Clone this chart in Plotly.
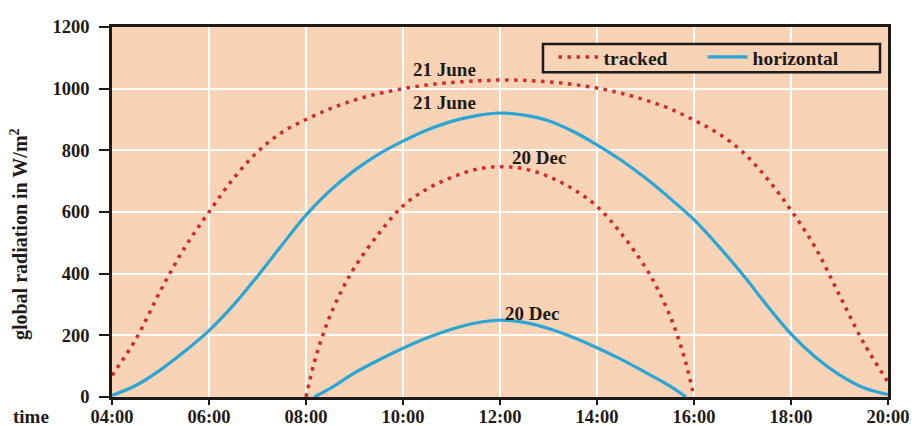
import plotly.graph_objects as go

# Clock times and radiation values (W/m²)
june_tracked_t = ["04:00", "04:30", "05:00", "05:30", "06:00", "06:30", "07:00", "07:30",
                  "08:00", "08:30", "09:00", "09:30", "10:00", "10:30", "11:00", "11:30",
                  "12:00", "12:30", "13:00", "13:30", "14:00", "14:30", "15:00", "15:30",
                  "16:00", "16:30", "17:00", "17:30", "18:00", "18:30", "19:00", "19:30", "20:00"]
june_tracked_v = [70, 190, 345, 485, 600, 708, 795, 858,
                  900, 935, 963, 984, 1000, 1012, 1020, 1025,
                  1028, 1027, 1022, 1014, 1002, 985, 963, 935,
                  898, 855, 795, 710, 606, 485, 330, 175, 49]

june_horiz_t = ["04:00", "04:30", "05:00", "05:30", "06:00", "06:30", "07:00", "07:30",
                "08:00", "08:30", "09:00", "09:30", "10:00", "10:30", "11:00", "11:30",
                "12:00", "12:30", "13:00", "13:30", "14:00", "14:30", "15:00", "15:30",
                "16:00", "16:30", "17:00", "17:30", "18:00", "18:30", "19:00", "19:30", "20:00"]
june_horiz_v = [5, 38, 88, 148, 215, 297, 392, 492,
                590, 670, 735, 788, 830, 866, 894, 912,
                921, 914, 896, 862, 818, 768, 710, 645,
                575, 490, 398, 298, 205, 130, 72, 30, 8]

dec_tracked_t = ["08:00", "08:10", "08:20", "08:30", "08:45", "09:00", "09:30", "10:00",
                 "10:30", "11:00", "11:30", "12:00", "12:30", "13:00", "13:30", "14:00",
                 "14:30", "15:00", "15:15", "15:30", "15:40", "15:50", "16:00"]
dec_tracked_v = [0, 110, 195, 265, 350, 420, 530, 620,
                 675, 712, 738, 747, 740, 715, 675, 618,
                 530, 420, 350, 265, 195, 110, 0]

dec_horiz_t = ["08:10", "08:30", "09:00", "09:30", "10:00", "10:30", "11:00", "11:30",
               "12:00", "12:30", "13:00", "13:30", "14:00", "14:30", "15:00", "15:30", "15:50"]
dec_horiz_v = [0, 28, 78, 120, 158, 192, 220, 240,
               249, 242, 222, 194, 160, 122, 80, 36, 0]

x_ticks = [4, 6, 8, 10, 12, 14, 16, 18, 20]
x_tick_text = ["04:00", "06:00", "08:00", "10:00", "12:00", "14:00", "16:00", "18:00", "20:00"]
y_ticks = [0, 200, 400, 600, 800, 1000, 1200]


def hours(labels):
    out = []
    for s in labels:
        h, m = s.split(":")
        out.append(int(h) + int(m) / 60)
    return out


RED = "#d42a2a"
BLUE = "#2aa6d6"
BG = "#f8d3b5"
INK = "#1e1a18"
FONT = "Liberation Serif"

fig = go.Figure()

dot_line = dict(color=RED, width=3.5, dash="3.5px,5.5px")
blue_line = dict(color=BLUE, width=3.2)

fig.add_trace(go.Scatter(x=hours(june_tracked_t), y=june_tracked_v, mode="lines",
                         line=dot_line, name="tracked", line_shape="spline"))
fig.add_trace(go.Scatter(x=hours(dec_tracked_t), y=dec_tracked_v, mode="lines",
                         line=dot_line, name="tracked", showlegend=False, line_shape="spline"))
fig.add_trace(go.Scatter(x=hours(june_horiz_t), y=june_horiz_v, mode="lines",
                         line=blue_line, name="horizontal", line_shape="spline"))
fig.add_trace(go.Scatter(x=hours(dec_horiz_t), y=dec_horiz_v, mode="lines",
                         line=blue_line, name="horizontal", showlegend=False, line_shape="spline"))

label_font = dict(family=FONT, size=19, color=INK, weight="bold")

for txt, x, y in [("21 June", 10.86, 1061), ("21 June", 10.86, 954),
                  ("20 Dec", 12.81, 778), ("20 Dec", 12.65, 272)]:
    fig.add_annotation(x=x, y=y, text=txt, showarrow=False, font=label_font,
                       xanchor="center", yanchor="middle")

# axis captions
fig.add_annotation(xref="paper", yref="paper", x=-0.120, y=0.44,
                   text="global radiation in W/m<sup>2</sup>", textangle=-90,
                   showarrow=False, font=dict(family=FONT, size=20, color=INK, weight="bold"),
                   xanchor="center", yanchor="middle")
fig.add_annotation(xref="paper", yref="paper", x=-0.104, y=-0.052,
                   text="time", showarrow=False, font=label_font,
                   xanchor="center", yanchor="middle")

# framed legend panel
fig.add_shape(type="rect", xref="paper", yref="paper",
              x0=0.5554, x1=0.9897, y0=0.878, y1=0.954,
              line=dict(color=INK, width=2.5), fillcolor=BG, layer="above")

fig.update_layout(
    width=912, height=426,
    margin=dict(l=112, r=24, t=27, b=29, autoexpand=False),
    paper_bgcolor="white",
    plot_bgcolor=BG,
    showlegend=True,
    legend=dict(orientation="h", x=0.569, y=0.971, xanchor="left", yanchor="top",
                bgcolor="rgba(0,0,0,0)", borderwidth=0,
                font=dict(family=FONT, size=19.5, color=INK, weight="bold"),
                itemwidth=40, entrywidth=94, tracegroupgap=0),
    xaxis=dict(range=[4, 20], tickvals=x_ticks, ticktext=x_tick_text,
               showgrid=True, gridcolor="white", gridwidth=2,
               showline=True, linecolor=INK, linewidth=2.5, mirror=True,
               ticks="outside", ticklen=5, tickwidth=2, tickcolor=INK,
               ticklabelstandoff=-4,
               tickfont=dict(family=FONT, size=18.5, color=INK, weight="bold"),
               zeroline=False),
    yaxis=dict(range=[0, 1200], tickvals=y_ticks,
               showgrid=True, gridcolor="white", gridwidth=2,
               showline=True, linecolor=INK, linewidth=2.5, mirror=True,
               ticks="outside", ticklen=10, tickwidth=2, tickcolor=INK,
               ticklabelstandoff=6,
               tickfont=dict(family=FONT, size=18.5, color=INK, weight="bold"),
               zeroline=False),
)

fig.write_html("out.html")
